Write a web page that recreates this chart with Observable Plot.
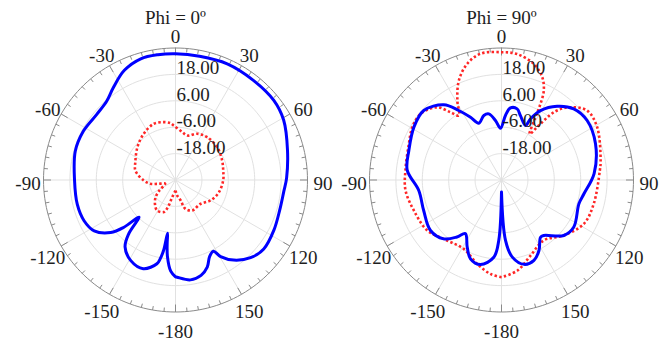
<!DOCTYPE html>
<html><head><meta charset="utf-8">
<script src="https://cdn.jsdelivr.net/npm/d3@7"></script>
<script src="https://cdn.jsdelivr.net/npm/@observablehq/plot@0.6"></script>
<style>body{margin:0;background:#fff;}</style>
</head><body><div id="chart"></div>
<script>
const panels = ["Phi = 0º", "Phi = 90º"];
const gainMin = -30, gainMax = 30;
const ringGains = [-18, -6, 6, 18];
const ringLabels = ["-18.00", "-6.00", "6.00", "18.00"];
const angleTicks = [-150, -120, -90, -60, -30, 0, 30, 60, 90, 120, 150, 180];
const angleLabels = ["-150", "-120", "-90", "-60", "-30", "0", "30", "60", "90", "120", "150", "-180"];

// Phi = 0º, blue solid
const phi0BlueAngle = [-180,-177,-174,-172.5,-171.5,-170.5,-169,-167.5,-160,-151,-143,-139,-135.5,-132.5,-129,-122,-114,-104,-90,-74,-62,-50,-41,-34,-25,-16,-8,0,11,24,38,51,61,75,89,96,106,117,128,136,144,149.5,152,156,160,165,171.5,179,180];
const phi0BlueGain  = [14.0,11.5,5,-1,-5.5,2,6.5,9,12.9,11.9,8.1,2.4,-6.3,1.8,7.9,13.6,15.5,16.0,15.9,17.4,17.4,16.6,17.6,20.6,25.0,27.3,27.5,27.4,27.3,27.8,27.5,27.5,26.2,22.7,20.5,19.5,19.3,20.2,20.9,19.1,15.0,10.4,6.7,8.1,12.2,14.9,15.9,14.2,14.0];
// Phi = 0º, red dotted
const phi0RedAngle = [-180,-169,-165,-160,-149,-140,-131,-123,-110,-102,-98.6,-91,-77,-66,-49,-34.5,-21,-11,-5,-2,8,15,25,36.5,52,67,79,90,106,120,134,151,161,166,174,180];
const phi0RedGain  = [-25.2,-22.0,-18.0,-14.5,-13.8,-15.5,-18.0,-21.3,-25,-21.5,-18.5,-15.6,-11.3,-10,-7.1,-4.5,-2.6,-3.2,-4.1,-5.2,-8.0,-9.1,-6.8,-5.8,-5.9,-7.0,-7.9,-8.3,-9.5,-11.5,-14.3,-14.2,-16.1,-20.5,-23,-25.2];
// Phi = 90º, blue solid
const phi90BlueAngle = [-180,-177.4,-174.3,-166,-158.5,-153,-146,-142,-135.5,-125.4,-111.4,-97.2,-84,-72.3,-58.9,-48.2,-37.5,-31.6,-26.3,-21.8,-15.3,-10.9,-5.8,-1.1,3.5,7.1,12.4,16.4,23.8,25.4,29.3,37,45.4,55.2,68.9,86,99.5,107,123,131.7,142.7,145.7,152,158,165,172,176.2,180];
const phi90BlueGain  = [-24.5,-2.5,5.3,9.6,8.5,4.3,-0.6,2.9,7.5,9.6,8.0,7.9,13.1,14.2,16.5,17.4,13.1,7.1,1.8,-2.2,0.4,0.6,-2.8,-6.5,-0.6,3.0,3.1,0.5,-2.9,0.8,6.2,12.0,16.1,17.4,15.8,12.2,8.0,6.8,9.2,7.9,1.7,1.5,6.3,9.4,9.7,5.4,-2.5,-24.5];
// Phi = 90º, red dotted
const phi90RedAngle = [-180,-173.3,-163.8,-151.3,-138,-124,-109,-96,-84,-68.7,-59.4,-50.7,-41.5,-37,-33.5,-29,-23.2,-16.4,-9.4,0,7,15.5,21.6,25.3,27.1,28.5,31.5,34,38,43.5,51,61,79,84.5,104.5,118,131.7,145,159,170,180];
const phi90RedGain  = [14.2,13.0,9.7,5.7,7.0,10.8,12.2,13.9,13.9,15.2,17.1,17.5,14.1,8.5,5.2,11.4,19.2,25.1,28.2,28.1,27.7,24.8,20.3,15.0,8.9,2.1,-5.5,-1,9.5,15.6,20.1,19.7,15.9,14.9,13.3,12.4,7.9,3.5,6.8,11.8,14.2];

const series = [
  {panel: panels[0], kind: "co", angle: phi0BlueAngle, gain: phi0BlueGain},
  {panel: panels[0], kind: "cross", angle: phi0RedAngle, gain: phi0RedGain},
  {panel: panels[1], kind: "co", angle: phi90BlueAngle, gain: phi90BlueGain},
  {panel: panels[1], kind: "cross", angle: phi90RedAngle, gain: phi90RedGain}
];
const curves = series.flatMap((s, k) => s.angle.map((a, j) => ({panel: s.panel, kind: s.kind, key: k, angle: a, gain: s.gain[j]})));

const rad = a => a * Math.PI / 180;
const px = (a, g) => (g - gainMin) * Math.sin(rad(a));
const py = (a, g) => (g - gainMin) * Math.cos(rad(a));
const span = gainMax - gainMin;

const circleSteps = d3.range(0, 361, 2);
const rings = ringGains.flatMap(g => circleSteps.map(a => ({g, a})));
const outer = circleSteps.map(a => ({g: gainMax, a}));
const tickAngles = d3.range(-175, 181, 5);
const labelGain = gainMax + 7.05;

const gridColor = "#e1e1e1", axisColor = "#8a8a8a", textColor = "#1e1e1e";

const chart = Plot.plot({
  width: 668, height: 343,
  marginLeft: 43, marginRight: 35, marginTop: 47.5, marginBottom: 31.5,
  facet: {marginTop: 0, marginRight: 0, marginBottom: 0, marginLeft: 0},
  fx: {domain: panels, paddingInner: 62 / 326, paddingOuter: 0, axis: null},
  x: {domain: [-span, span], axis: null},
  y: {domain: [-span, span], axis: null},
  style: {fontFamily: "'Liberation Serif', 'Times New Roman', serif", fontSize: "19px", color: textColor, background: "#fff"},
  marks: [
    Plot.line(rings, {x: d => px(d.a, d.g), y: d => py(d.a, d.g), z: "g", stroke: gridColor, strokeWidth: 1}),
    Plot.link(angleTicks, {x1: () => 0, y1: () => 0, x2: a => px(a, gainMax), y2: a => py(a, gainMax), stroke: gridColor, strokeWidth: 1}),
    Plot.line(outer, {x: d => px(d.a, d.g), y: d => py(d.a, d.g), stroke: axisColor, strokeWidth: 1}),
    Plot.link(tickAngles, {
      x1: a => px(a, gainMax), y1: a => py(a, gainMax),
      x2: a => px(a, gainMax - (a % 30 === 0 ? 3.4 : 1.8)), y2: a => py(a, gainMax - (a % 30 === 0 ? 3.4 : 1.8)),
      stroke: axisColor, strokeWidth: 1
    }),
    Plot.line(curves.filter(d => d.kind === "cross"), {
      fx: "panel", x: d => px(d.angle, d.gain), y: d => py(d.angle, d.gain), z: "key",
      stroke: "#ff2626", strokeWidth: 2.6, strokeDasharray: "2.4 2.3", strokeLinecap: "butt", curve: "catmull-rom"
    }),
    Plot.line(curves.filter(d => d.kind === "co"), {
      fx: "panel", x: d => px(d.angle, d.gain), y: d => py(d.angle, d.gain), z: "key",
      stroke: "#0000ff", strokeWidth: 3, curve: "catmull-rom"
    }),
    Plot.text(ringGains, {x: () => 0, y: g => py(0, g), text: (g, i) => ringLabels[i], textAnchor: "start", lineAnchor: "bottom", dx: 1, fill: textColor}),
    Plot.text(angleTicks, {x: a => px(a, labelGain), y: a => py(a, labelGain), text: (a, i) => angleLabels[i], dy: 4, fill: textColor}),
    Plot.text(panels, {fx: d => d, frameAnchor: "top", text: d => d, lineAnchor: "bottom", dy: -24.5, fill: textColor})
  ]
});
document.getElementById("chart").append(chart);
</script>
</body></html>
